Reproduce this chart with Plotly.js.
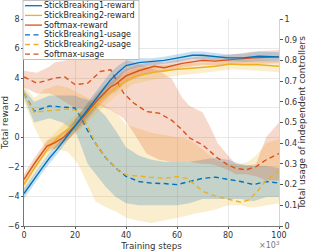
<!DOCTYPE html>
<html>
<head>
<meta charset="utf-8">
<script src="https://cdn.plot.ly/plotly-3.0.1.min.js"></script>
<style>html,body{margin:0;padding:0;background:#fff;}#chart{width:311px;height:252px;}</style>
</head>
<body>
<div id="chart"></div>
<script>
// ---- Reward series (left axis) ----
var sb1RewardX = [0,4,7,10,13,17,20,22,26,30,34,37,40,45,50,55,60,66,70,75,80,86,92,100];
var sb1Reward   = [-3.8,-2.8,-2.1,-1.4,-0.8,0.1,0.8,1.2,2.1,3.0,3.9,4.4,4.85,5.05,5.1,5.2,5.35,5.55,5.55,5.45,5.37,5.37,5.48,5.44];
var sb1RewardHi = [-3.45,-2.45,-1.75,-1.05,-0.45,0.45,1.2,1.65,2.6,3.5,4.4,4.85,5.2,5.35,5.35,5.45,5.6,5.8,5.8,5.7,5.6,5.65,5.8,5.75];
var sb1RewardLo = [-4.15,-3.15,-2.45,-1.75,-1.15,-0.25,0.4,0.8,1.6,2.5,3.4,3.95,4.5,4.75,4.85,4.95,5.1,5.3,5.3,5.2,5.15,5.1,5.15,5.15];

var sb2RewardX = [0,5,10.5,15.7,21,26,31.4,36.6,43,51,59,67,75,81,86,92,100];
var sb2Reward   = [-3.2,-1.85,-0.5,0.35,0.95,1.85,2.75,3.45,4.1,4.4,4.58,4.69,4.8,4.96,4.91,4.91,4.8];
var sb2RewardHi = [-2.7,-1.35,0.0,0.9,1.6,2.5,3.4,4.0,4.6,4.85,4.95,5.0,5.1,5.25,5.25,5.25,5.15];
var sb2RewardLo = [-3.7,-2.35,-1.0,-0.3,0.3,1.2,2.1,2.9,3.6,3.9,4.15,4.3,4.45,4.6,4.55,4.5,4.4];

var smRewardX = [0,4,9,12,16,20,23.5,28.7,34,36,40,45,51,55,62,70,75,81,90,100];
var smReward   = [-2.85,-1.8,-0.6,-0.38,0.05,0.75,1.4,2.5,3.4,3.6,4.15,4.5,4.8,4.7,5.0,5.2,5.15,5.25,5.37,5.44];
var smRewardHi = [-2.5,-1.4,-0.2,0.0,0.45,1.2,1.9,3.0,3.9,4.1,4.6,4.9,5.15,5.05,5.3,5.5,5.5,5.6,5.8,5.9];
var smRewardLo = [-3.2,-2.2,-1.0,-0.75,-0.35,0.3,0.9,2.0,2.9,3.1,3.7,4.1,4.45,4.4,4.7,4.9,4.85,4.9,4.95,5.0];

// ---- Usage series (right axis) ----
var sb1UsageX = [0,4,10,15,20,22,25,28,32,36,40,45,50,55,60,65,70,75,80,85,90,95,100];
var sb1Usage   = [0.64,0.555,0.58,0.575,0.57,0.53,0.46,0.40,0.33,0.28,0.24,0.215,0.207,0.205,0.2,0.215,0.23,0.236,0.226,0.215,0.2,0.215,0.207];
var sb1UsageHi = [0.66,0.6,0.63,0.63,0.63,0.62,0.61,0.58,0.53,0.46,0.38,0.34,0.32,0.31,0.31,0.31,0.32,0.33,0.32,0.3,0.29,0.29,0.28];
var sb1UsageLo = [0.62,0.5,0.52,0.5,0.46,0.40,0.30,0.25,0.19,0.14,0.11,0.10,0.10,0.10,0.10,0.11,0.13,0.13,0.13,0.13,0.12,0.14,0.14];

var sb2UsageX = [0,4,8,13,17,20,22,25,28,32,36,40,45,50,55,60,64,67,70,75,80,85,88,91,95,100];
var sb2Usage   = [0.64,0.55,0.555,0.56,0.565,0.56,0.55,0.48,0.40,0.33,0.28,0.247,0.24,0.235,0.23,0.239,0.23,0.2,0.168,0.145,0.13,0.115,0.125,0.16,0.22,0.265];
var sb2UsageHi = [0.68,0.62,0.66,0.68,0.67,0.65,0.64,0.62,0.6,0.58,0.55,0.49,0.47,0.45,0.44,0.43,0.42,0.4,0.37,0.32,0.3,0.3,0.31,0.34,0.4,0.42];
var sb2UsageLo = [0.6,0.48,0.38,0.37,0.36,0.32,0.28,0.2,0.12,0.09,0.07,0.04,0.025,0.015,0.03,0.04,0.05,0.06,0.065,0.08,0.1,0.1,0.09,0.09,0.1,0.11];

var smUsageX = [0,5,10,12,16,20,25,30,34,39,43,48,53,58,62,65,70,73,76,80,83,87,91,95,100];
var smUsage   = [0.72,0.69,0.707,0.715,0.72,0.683,0.69,0.747,0.755,0.643,0.594,0.553,0.545,0.51,0.465,0.425,0.392,0.36,0.328,0.295,0.279,0.271,0.287,0.32,0.35];
var smUsageHi = [0.75,0.74,0.77,0.79,0.8,0.81,0.83,0.84,0.83,0.81,0.79,0.77,0.75,0.71,0.62,0.58,0.55,0.48,0.40,0.34,0.30,0.29,0.30,0.43,0.50];
var smUsageLo = [0.67,0.64,0.64,0.63,0.6,0.57,0.56,0.58,0.56,0.52,0.45,0.35,0.32,0.31,0.31,0.31,0.30,0.30,0.29,0.27,0.25,0.25,0.24,0.22,0.22];

var legendNames = ['StickBreaking1-reward','StickBreaking2-reward','Softmax-reward','StickBreaking1-usage','StickBreaking2-usage','Softmax-usage'];
var xTicks = [0,20,40,60,80,100];

var BLUE = '#0072BD', YEL = '#EDB120', RED = '#D95319';
var DASH = '5px,3.5px';
function rgba(hex, a){var n=parseInt(hex.slice(1),16);return 'rgba('+(n>>16)+','+((n>>8)&255)+','+(n&255)+','+a+')';}

function band(x, hi, lo, color, yax){
  return {x: x.concat(x.slice().reverse()), y: hi.concat(lo.slice().reverse()),
    type:'scatter', mode:'lines', fill:'toself', fillcolor: rgba(color,0.22),
    line:{width:0}, hoverinfo:'skip', showlegend:false, yaxis: yax};
}
function line(x, y, color, dashed, yax){
  return {x:x, y:y, type:'scatter', mode:'lines', yaxis:yax, showlegend:false,
    line:{color:color, width:1.4, dash: dashed ? DASH : 'solid'}};
}

var traces = [
  band(sb2UsageX, sb2UsageHi, sb2UsageLo, YEL, 'y'),
  band(sb1UsageX, sb1UsageHi, sb1UsageLo, BLUE, 'y'),
  band(smUsageX, smUsageHi, smUsageLo, RED, 'y'),
  line(sb1UsageX, sb1Usage, BLUE, true, 'y'),
  line(sb2UsageX, sb2Usage, YEL, true, 'y'),
  line(smUsageX, smUsage, RED, true, 'y'),
  band(sb2RewardX, sb2RewardHi, sb2RewardLo, YEL, 'y2'),
  band(smRewardX, smRewardHi, smRewardLo, RED, 'y2'),
  band(sb1RewardX, sb1RewardHi, sb1RewardLo, BLUE, 'y2'),
  line(sb2RewardX, sb2Reward, YEL, false, 'y2'),
  line(smRewardX, smReward, RED, false, 'y2'),
  line(sb1RewardX, sb1Reward, BLUE, false, 'y2')
];

// custom compact legend
var legColors = [BLUE, YEL, RED, BLUE, YEL, RED];
var legDashed = [false,false,false,true,true,true];
var L = 24, T = 19, W = 255, H = 207;
function px2x(p){return (p-L)/W;}
function px2y(p){return (T+H-p)/H;}
var shapes = [{type:'rect', xref:'paper', yref:'paper', x0:px2x(23), x1:px2x(139), y0:px2y(59.5), y1:px2y(0.5),
  fillcolor:'#ffffff', line:{color:'#b0b0b0', width:0.8}, layer:'above'}];
var annotations = [];
for (var i=0;i<legendNames.length;i++){
  var py = 5.7 + i*9.7;
  shapes.push({type:'line', xref:'paper', yref:'paper', x0:px2x(25), x1:px2x(42), y0:px2y(py), y1:px2y(py),
    line:{color:legColors[i], width:1.3, dash: legDashed[i] ? DASH : 'solid'}, layer:'above'});
  annotations.push({xref:'paper', yref:'paper', x:px2x(42.5), y:px2y(py), xanchor:'left', yanchor:'middle',
    text:legendNames[i], showarrow:false, font:{family:'DejaVu Sans', size:8, color:'#262626'}, borderpad:0});
}
annotations.push({xref:'paper', yref:'paper', x:px2x(281), y:px2y(245), xanchor:'right', yanchor:'middle',
  text:'×10<sup>3</sup>', showarrow:false, font:{family:'DejaVu Sans', size:8, color:'#777'}, borderpad:0});

var layout = {
  width:311, height:252,
  margin:{l:L, r:311-L-W, t:T, b:252-T-H, pad:0},
  paper_bgcolor:'#fff', plot_bgcolor:'#fff',
  font:{family:'DejaVu Sans', size:8, color:'#333'},
  showlegend:false,
  xaxis:{range:[0,100], tickvals:xTicks, ticktext:xTicks.map(String), showgrid:true, gridcolor:'#e2e2e2', gridwidth:0.8,
    zeroline:false, showline:true, linecolor:'#555', linewidth:0.8, ticks:'outside', ticklen:2, tickcolor:'#555',
    tickfont:{size:8, color:'#333'}, title:{text:'Training steps', font:{size:8.7, color:'#333'}, standoff:3}},
  yaxis:{side:'right', range:[0,1], dtick:0.1, tick0:0, showgrid:false, zeroline:false, showline:true,
    linecolor:'#c8c8c8', linewidth:0.8, ticks:'outside', ticklen:3, tickcolor:'#555', tickfont:{size:8, color:'#333'},
    title:{text:'Total usage of independent controllers', font:{size:9, color:'#333'}, standoff:2}},
  yaxis2:{overlaying:'y', anchor:'x', side:'left', range:[-6,8], dtick:2, tick0:0, showgrid:true, gridcolor:'#e2e2e2',
    gridwidth:0.8, zeroline:false, showline:true, linecolor:'#555', linewidth:0.8, ticks:'outside', ticklen:2,
    tickcolor:'#555', tickfont:{size:8, color:'#333'},
    title:{text:'Total reward', font:{size:8.7, color:'#333'}, standoff:2}},
  shapes:shapes, annotations:annotations
};
Plotly.newPlot('chart', traces, layout, {staticPlot:true, displayModeBar:false});
</script>
</body>
</html>
